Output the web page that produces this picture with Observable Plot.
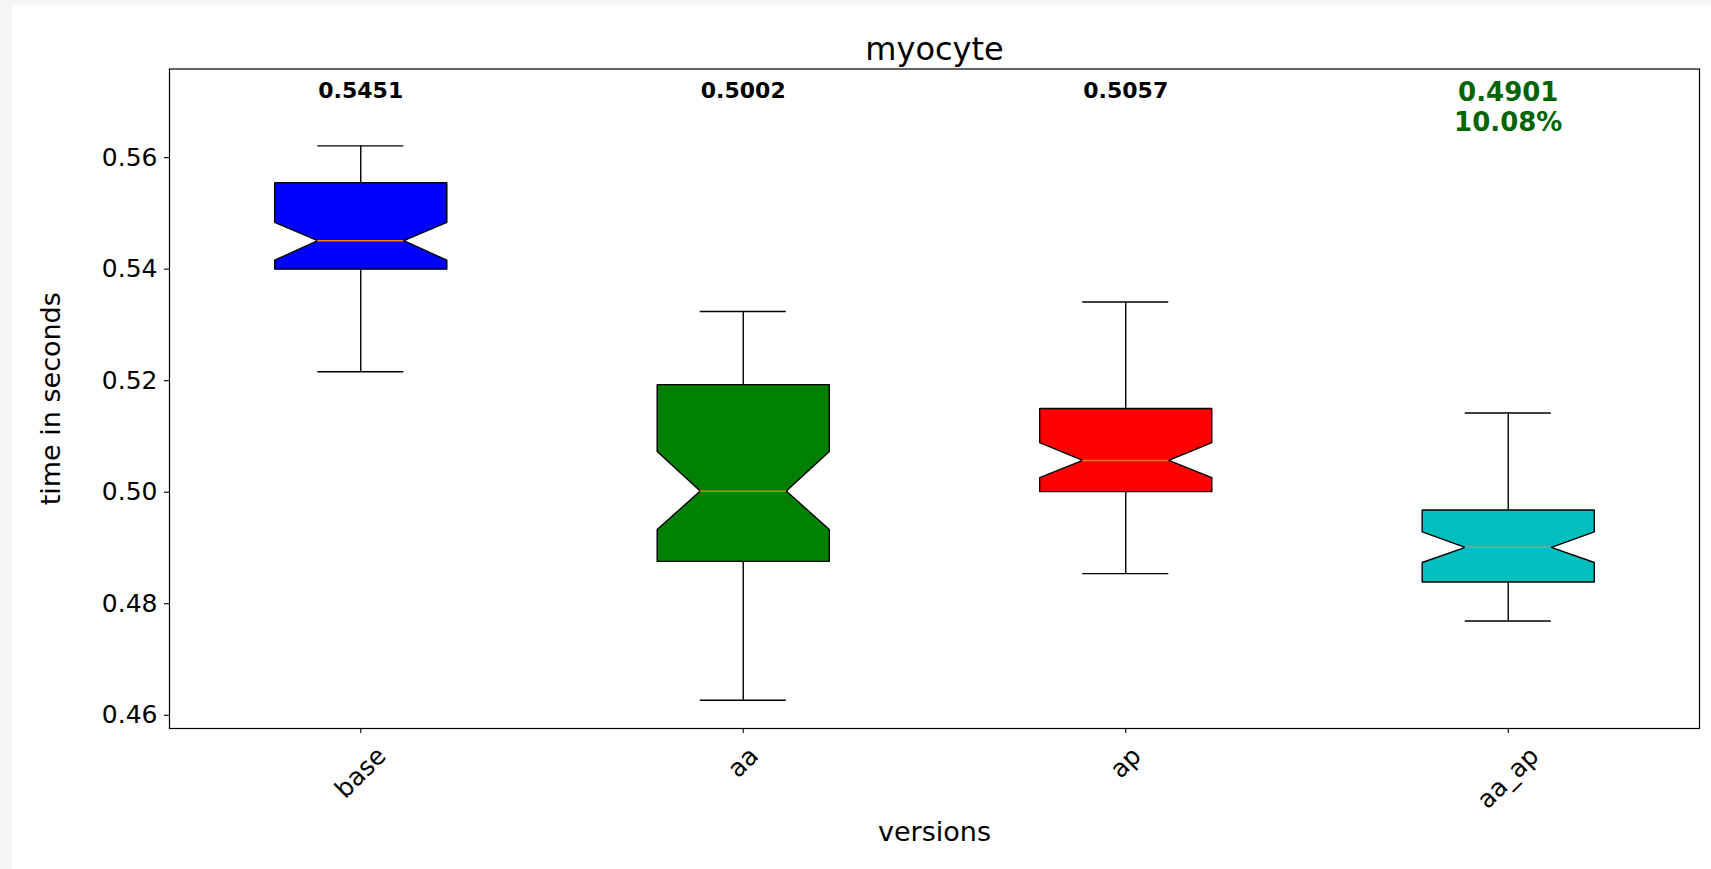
<!DOCTYPE html>
<html>
<head>
<meta charset="utf-8">
<script src="https://cdn.jsdelivr.net/npm/d3@7"></script>
<script src="https://cdn.jsdelivr.net/npm/@observablehq/plot@0.6"></script>
<style>
  html, body { margin: 0; padding: 0; background: #f6f6f6; }
  #chart { position: absolute; left: 12px; top: 5px; background: white; }
  svg { font-family: "DejaVu Sans", sans-serif; }
</style>
</head>
<body>
<div id="chart"></div>
<script>
// ---- data ----
const title = "myocyte";
const xLabel = "versions";
const yLabel = "time in seconds";
const versions   = ["base", "aa", "ap", "aa_ap"];
const colors     = ["#0000ff", "#008000", "#ff0000", "#00bfbf"];
const whiskerLo  = [0.5216, 0.4627, 0.4854, 0.4769];
const q1         = [0.5400, 0.4876, 0.5001, 0.4839];
const median     = [0.5451, 0.5002, 0.5057, 0.4901];
const q3         = [0.5555, 0.5193, 0.5150, 0.4968];
const whiskerHi  = [0.5621, 0.5324, 0.5341, 0.5142];
const notchLo    = [0.5416, 0.4933, 0.5026, 0.4874];
const notchHi    = [0.5484, 0.5073, 0.5089, 0.4929];
const annotText  = ["0.5451", "0.5002", "0.5057", "0.4901\n10.08%"];
const best       = [false, false, false, true];
const yTicks     = [0.46, 0.48, 0.50, 0.52, 0.54, 0.56];

// ---- derived tables ----
const positions = versions.map((v, i) => i + 1);
const boxW = 0.45, half = boxW / 2, inner = boxW / 4;
const rows = versions.map((v, i) => ({
  version: v, pos: positions[i], color: colors[i],
  lo: whiskerLo[i], q1: q1[i], med: median[i], q3: q3[i], hi: whiskerHi[i],
  nlo: notchLo[i], nhi: notchHi[i], annot: annotText[i], best: best[i]
}));
const poly = rows.flatMap(r => [
  [r.pos - half, r.q1], [r.pos + half, r.q1], [r.pos + half, r.nlo], [r.pos + inner, r.med],
  [r.pos + half, r.nhi], [r.pos + half, r.q3], [r.pos - half, r.q3], [r.pos - half, r.nhi],
  [r.pos - inner, r.med], [r.pos - half, r.nlo], [r.pos - half, r.q1]
].map(([x, y]) => ({version: r.version, color: r.color, x, y})));

const ctx = document.createElement("canvas").getContext("2d");
ctx.font = "25px 'DejaVu Sans'";

const lw = 1.4;
const chart = Plot.plot({
  width: 1699, height: 864,
  marginLeft: 157, marginRight: 12, marginTop: 63.5, marginBottom: 141,
  x: {domain: [0.5, 4.5]},
  y: {domain: [0.45763, 0.57589]},
  color: {type: "identity"},
  style: {background: "white", fontFamily: "DejaVu Sans", color: "black"},
  marks: [
    // whiskers
    Plot.ruleX(rows, {x: "pos", y1: "q3", y2: "hi", stroke: "black", strokeWidth: lw}),
    Plot.ruleX(rows, {x: "pos", y1: "lo", y2: "q1", stroke: "black", strokeWidth: lw}),
    Plot.ruleY(rows, {y: "hi", x1: d => d.pos - inner, x2: d => d.pos + inner, stroke: "black", strokeWidth: lw}),
    Plot.ruleY(rows, {y: "lo", x1: d => d.pos - inner, x2: d => d.pos + inner, stroke: "black", strokeWidth: lw}),
    // notched boxes
    Plot.line(poly, {x: "x", y: "y", z: "version", fill: "color", stroke: "black", strokeWidth: lw, strokeLinejoin: "miter"}),
    // medians
    Plot.ruleY(rows, {y: "med", x1: d => d.pos - inner, x2: d => d.pos + inner, stroke: "#ff7f0e", strokeWidth: 1.4}),
    // axes
    Plot.axisY(yTicks, {tickSize: 5, tickPadding: 7, tickFormat: d => d.toFixed(2), fontSize: 25, label: null, stroke: "black", strokeWidth: 1.1}),
    Plot.axisX(positions, {tickSize: 5, tickFormat: () => "", label: null, stroke: "black", strokeWidth: 1.1}),
    // rotated x tick labels, centered under their tick
    ...rows.map(r => Plot.text([r], {
      x: "pos", text: "version", frameAnchor: "bottom", rotate: -45,
      textAnchor: "middle", lineAnchor: "middle", fontSize: 25, fill: "black",
      dy: 13 + (ctx.measureText(r.version).width + 29.1) * 0.3536
    })),
    // annotations
    Plot.text(rows.filter(r => !r.best), {x: "pos", text: "annot", frameAnchor: "top", lineAnchor: "top", dy: 13.4, fontSize: 22, fontWeight: "bold", fill: "black"}),
    Plot.text(rows.filter(r => r.best), {x: "pos", text: "annot", frameAnchor: "top", lineAnchor: "top", dy: 10.5, fontSize: 26, lineHeight: 1.16, fontWeight: "bold", fill: "#006400"}),
    // title and axis labels
    Plot.text([title], {text: d => d, frameAnchor: "top", lineAnchor: "bottom", dy: -9.5, fontSize: 32, fill: "black"}),
    Plot.text([yLabel], {text: d => d, frameAnchor: "left", rotate: -90, dx: -118, textAnchor: "middle", lineAnchor: "middle", fontSize: 27, fill: "black"}),
    Plot.text([xLabel], {text: d => d, frameAnchor: "bottom", dy: 103.5, textAnchor: "middle", lineAnchor: "middle", fontSize: 27, fill: "black"}),
    Plot.frame({stroke: "black", strokeWidth: 1.2})
  ]
});
document.getElementById("chart").appendChild(chart);
</script>
</body>
</html>
